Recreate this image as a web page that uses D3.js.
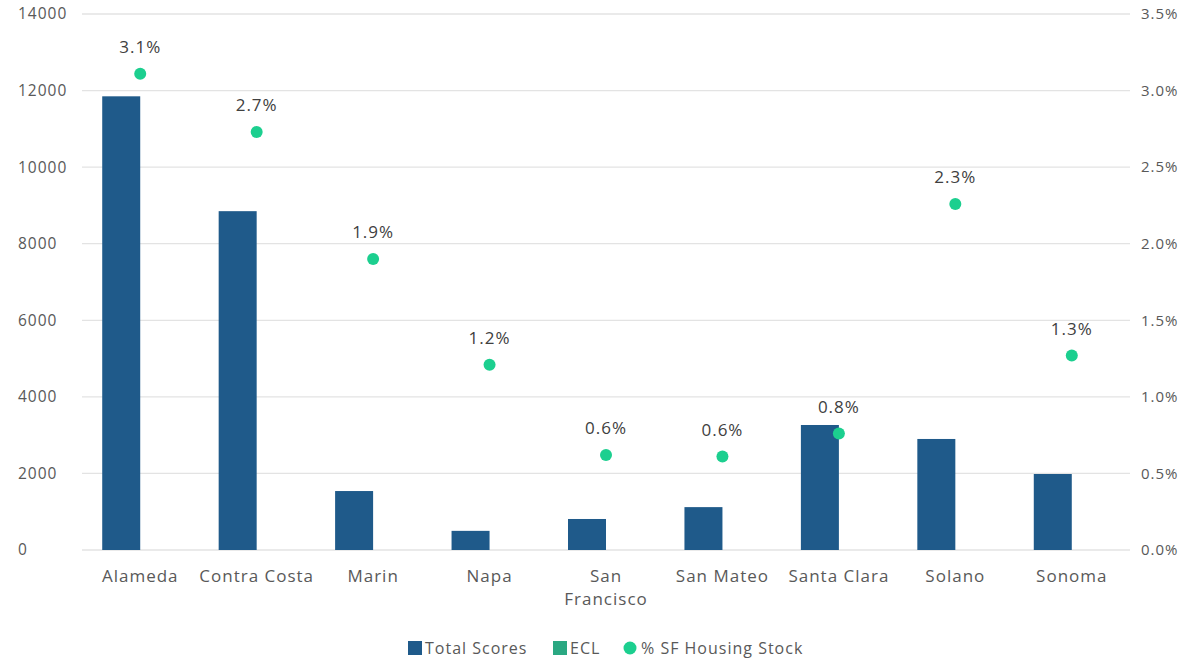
<!DOCTYPE html>
<html>
<head>
<meta charset="utf-8">
<script src="https://cdn.jsdelivr.net/npm/d3@7"></script>
<style>
body { margin: 0; background: #fff; }
svg text { font-family: "Open Sans", "Noto Sans", sans-serif; fill: #595959; letter-spacing: 1px; }
</style>
</head>
<body>
<svg id="chart" width="1193" height="660"></svg>
<script>
// counties and series
var counties = ["Alameda", "Contra Costa", "Marin", "Napa", "San Francisco", "San Mateo", "Santa Clara", "Solano", "Sonoma"];
var totalScores = [11850, 8850, 1540, 500, 810, 1120, 3265, 2900, 1985];
var eclValues = [0, 0, 0, 0, 0, 0, 0, 0, 0];
var sfHousingStock = [0.0311, 0.0273, 0.0190, 0.0121, 0.0062, 0.0061, 0.0076, 0.0226, 0.0127];
var leftTicks = [0, 2000, 4000, 6000, 8000, 10000, 12000, 14000];
var rightTicks = [0, 0.005, 0.01, 0.015, 0.02, 0.025, 0.03, 0.035];

var barColor = "#1f5a8a";
var eclColor = "#2aa882";
var dotColor = "#1ccf8f";

var plotLeft = 82, plotRight = 1130, plotTop = 14, plotBottom = 550;

var svg = d3.select("#chart");

var x = d3.scaleBand().domain(counties).range([plotLeft, plotRight]);
var xSub = d3.scaleBand().domain(["total", "ecl"]).range([0, 76]);
var y = d3.scaleLinear().domain([0, 14000]).range([plotBottom, plotTop]);
var y2 = d3.scaleLinear().domain([0, 0.035]).range([plotBottom, plotTop]);

// gridlines
svg.append("g")
	.selectAll("line")
	.data(leftTicks)
	.join("line")
	.attr("x1", plotLeft)
	.attr("x2", plotRight)
	.attr("y1", function(d) { return y(d); })
	.attr("y2", function(d) { return y(d); })
	.style("stroke", "#e3e3e3")
	.style("stroke-width", 1.3);

// left axis labels (left aligned like the original)
svg.append("g")
	.selectAll("text")
	.data(leftTicks)
	.join("text")
	.attr("x", 18)
	.attr("y", function(d) { return y(d); })
	.attr("dy", ".35em")
	.style("font-size", "15.5px")
	.text(function(d) { return d; });

// right axis labels
svg.append("g")
	.selectAll("text")
	.data(rightTicks)
	.join("text")
	.attr("x", 1141)
	.attr("y", function(d) { return y2(d); })
	.attr("dy", ".35em")
	.style("font-size", "15px")
	.text(function(d) { return (d * 100).toFixed(1) + "%"; });

var barOffset = (x.bandwidth() - 76) / 2;

// total scores bars
svg.append("g")
	.selectAll("rect")
	.data(counties)
	.join("rect")
	.attr("x", function(d) { return x(d) + barOffset + xSub("total"); })
	.attr("width", xSub.bandwidth())
	.attr("y", function(d, i) { return y(totalScores[i]); })
	.attr("height", function(d, i) { return plotBottom - y(totalScores[i]); })
	.style("fill", barColor);

// ECL bars (all zero)
svg.append("g")
	.selectAll("rect")
	.data(counties)
	.join("rect")
	.attr("x", function(d) { return x(d) + barOffset + xSub("ecl"); })
	.attr("width", xSub.bandwidth())
	.attr("y", function(d, i) { return y(eclValues[i]); })
	.attr("height", function(d, i) { return plotBottom - y(eclValues[i]); })
	.style("fill", eclColor);

// % SF housing stock dots + labels
var cx = function(d) { return x(d) + x.bandwidth() / 2; };
svg.append("g")
	.selectAll("circle")
	.data(counties)
	.join("circle")
	.attr("cx", cx)
	.attr("cy", function(d, i) { return y2(sfHousingStock[i]); })
	.attr("r", 6)
	.style("fill", dotColor);

svg.append("g")
	.selectAll("text")
	.data(counties)
	.join("text")
	.attr("x", cx)
	.attr("y", function(d, i) { return y2(sfHousingStock[i]) - 21; })
	.style("text-anchor", "middle")
	.style("font-size", "17px")
	.style("fill", "#404040")
	.text(function(d, i) { return (sfHousingStock[i] * 100).toFixed(1) + "%"; });

// category labels
var catLabels = svg.append("g")
	.selectAll("text")
	.data(counties)
	.join("text")
	.attr("x", cx)
	.attr("y", 582)
	.style("text-anchor", "middle")
	.style("font-size", "17px");
catLabels.each(function(d) {
	var t = d3.select(this);
	if (d == "San Francisco") {
		t.append("tspan").attr("x", cx(d)).text("San");
		t.append("tspan").attr("x", cx(d)).attr("dy", "1.35em").text("Francisco");
	} else {
		t.text(d);
	}
});

// legend
var legendItems = [
	{ name: "Total Scores", color: barColor, shape: "rect", x: 408 },
	{ name: "ECL", color: eclColor, shape: "rect", x: 553 },
	{ name: "% SF Housing Stock", color: dotColor, shape: "circle", x: 624 }
];
var legend = svg.append("g").attr("class", "legend");
legendItems.forEach(function(item) {
	if (item.shape == "rect") {
		legend.append("rect")
			.attr("x", item.x)
			.attr("y", 641)
			.attr("width", 14)
			.attr("height", 14)
			.style("fill", item.color);
	} else {
		legend.append("circle")
			.attr("cx", item.x + 6)
			.attr("cy", 648)
			.attr("r", 6.5)
			.style("fill", item.color);
	}
	legend.append("text")
		.attr("x", item.x + 17)
		.attr("y", 648)
		.attr("dy", ".35em")
		.style("font-size", "16px")
		.text(item.name);
});
</script>
</body>
</html>
